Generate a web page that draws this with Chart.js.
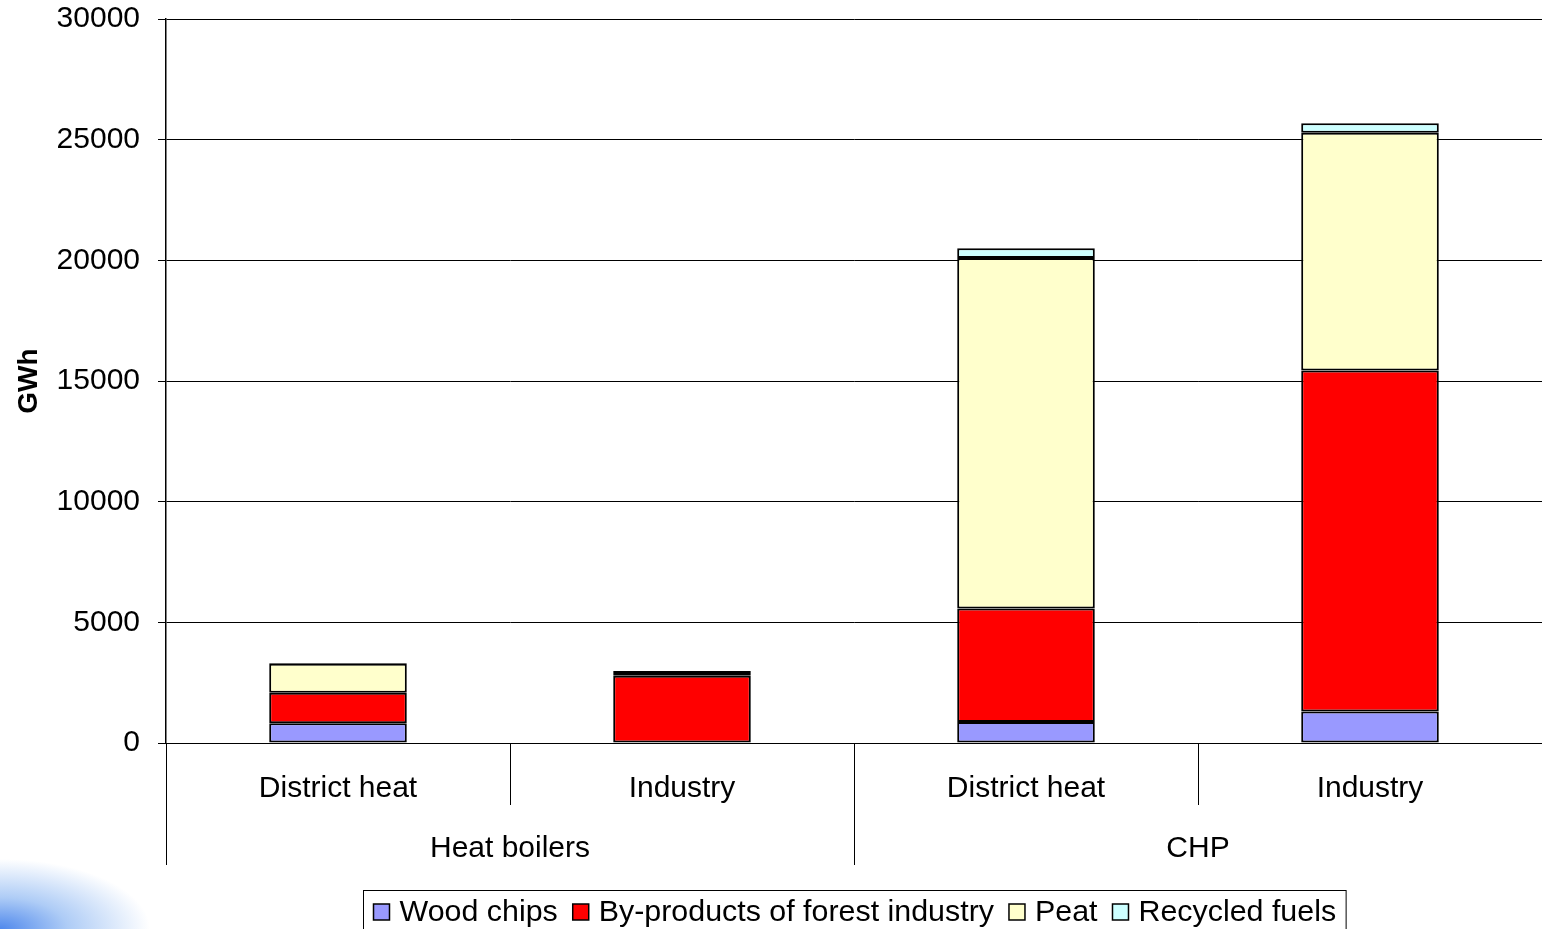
<!DOCTYPE html>
<html>
<head>
<meta charset="utf-8">
<script src="https://cdn.jsdelivr.net/npm/chart.js@4.4.1/dist/chart.umd.min.js"></script>
<style>
  html, body { margin: 0; padding: 0; }
  body {
    width: 1542px; height: 929px; overflow: hidden;
    background:
      radial-gradient(ellipse 150px 70px at 0px 929px, rgba(70,130,235,0.95) 0%, rgba(120,170,240,0.6) 45%, rgba(255,255,255,0) 100%),
      #ffffff;
  }
  #wrap { position: relative; width: 1542px; height: 929px; }
</style>
</head>
<body>
<div id="wrap"><canvas id="c" width="1542" height="929"></canvas></div>
<script>
// Fuel use for heat production (GWh)
const categories = ['District heat', 'Industry', 'District heat', 'Industry'];
const groups = ['Heat boilers', 'CHP'];
const woodChips = [820, 0, 870, 1310];
const forestByproducts = [1265, 2790, 4700, 14120];
const peat = [1200, 150, 14530, 9860];
const recycledFuels = [25, 40, 400, 390];
const yTicks = [0, 5000, 10000, 15000, 20000, 25000, 30000];

const FONT = '"Liberation Sans", Arial, sans-serif';
const FS = 30;
const LEGEND_FS = 30.4;

const seriesDefs = [
  { label: 'Wood chips', data: woodChips, color: '#9999FF' },
  { label: 'By-products of forest industry', data: forestByproducts, color: '#FF0000' },
  { label: 'Peat', data: peat, color: '#FFFFCC' },
  { label: 'Recycled fuels', data: recycledFuels, color: '#CCFFFF' }
];

// Group separators, group captions and the framed legend
const decorations = {
  id: 'decorations',
  afterDraw(chart) {
    const ctx = chart.ctx;
    const area = chart.chartArea;
    const step = (area.right - area.left) / categories.length;
    ctx.save();
    ctx.strokeStyle = '#000';
    ctx.lineWidth = 1;
    // category separators
    for (let i = 0; i < categories.length; i++) {
      const px = Math.round(area.left + i * step) + 0.5;
      const bottom = (i % 2 === 0) ? area.bottom + 122 : area.bottom + 62;
      ctx.beginPath();
      ctx.moveTo(px, area.bottom);
      ctx.lineTo(px, bottom);
      ctx.stroke();
    }
    // group captions
    ctx.fillStyle = '#000';
    ctx.font = FS + 'px ' + FONT;
    ctx.textAlign = 'center';
    ctx.textBaseline = 'middle';
    groups.forEach((g, gi) => {
      const cx = area.left + (gi * 2 + 1) * step;
      ctx.fillText(g, cx, area.bottom + 106);
    });

    // legend
    const box = 16, gapBoxText = 10, gapItems = 15, padX = 10;
    ctx.font = LEGEND_FS + 'px ' + FONT;
    const widths = seriesDefs.map(s => box + gapBoxText + ctx.measureText(s.label).width);
    const total = widths.reduce((a, b) => a + b, 0) + gapItems * (seriesDefs.length - 1) + padX * 2;
    const lx = Math.round(854 - total / 2) + 0.5;
    const ly = 890.5;
    ctx.strokeStyle = '#000';
    ctx.lineWidth = 1;
    ctx.strokeRect(lx, ly, total, 60);
    let cx = lx + padX;
    const cy = 912;
    ctx.textAlign = 'left';
    seriesDefs.forEach((s, i) => {
      ctx.fillStyle = s.color;
      ctx.fillRect(cx, cy - box / 2, box, box);
      ctx.strokeStyle = '#000';
      ctx.lineWidth = 1.5;
      ctx.strokeRect(cx, cy - box / 2, box, box);
      ctx.fillStyle = '#000';
      ctx.fillText(s.label, cx + box + gapBoxText, cy + 1);
      cx += widths[i] + gapItems;
    });
    ctx.restore();
  }
};

new Chart(document.getElementById('c'), {
  type: 'bar',
  data: {
    labels: categories,
    datasets: seriesDefs.map(s => ({
      label: s.label,
      data: s.data,
      backgroundColor: s.color,
      borderColor: '#000',
      borderWidth: 2,
      borderSkipped: false,
      barPercentage: 0.4,
      categoryPercentage: 1.0
    }))
  },
  options: {
    responsive: false,
    animation: false,
    devicePixelRatio: 1,
    layout: { padding: { top: 19, right: 0, left: 0, bottom: 0 } },
    plugins: {
      legend: { display: false },
      tooltip: { enabled: false }
    },
    scales: {
      x: {
        stacked: true,
        grid: { display: false },
        border: { display: false },
        ticks: {
          color: '#000',
          font: { family: FONT, size: FS },
          padding: 20,
          maxRotation: 0,
          autoSkip: false
        },
        afterFit(scale) { scale.height = 186; scale.paddingLeft = 0; scale.paddingRight = 0; }
      },
      y: {
        stacked: true,
        min: 0,
        max: 30000,
        afterBuildTicks(scale) { scale.ticks = yTicks.map(v => ({ value: v })); },
        grid: { color: '#000', lineWidth: 1, tickLength: 8, tickColor: '#000' },
        border: { display: true, color: '#000', width: 1.5 },
        ticks: {
          color: '#000',
          font: { family: FONT, size: FS },
          padding: 18,
          callback: v => String(v)
        },
        title: {
          display: true,
          text: 'GWh',
          color: '#000',
          font: { family: FONT, size: 28, weight: 'bold' },
          padding: { top: 12, bottom: 0 }
        },
        afterFit(scale) { scale.width = 166; scale.paddingTop = 0; scale.paddingBottom = 0; }
      }
    }
  },
  plugins: [decorations]
});
</script>
</body>
</html>
